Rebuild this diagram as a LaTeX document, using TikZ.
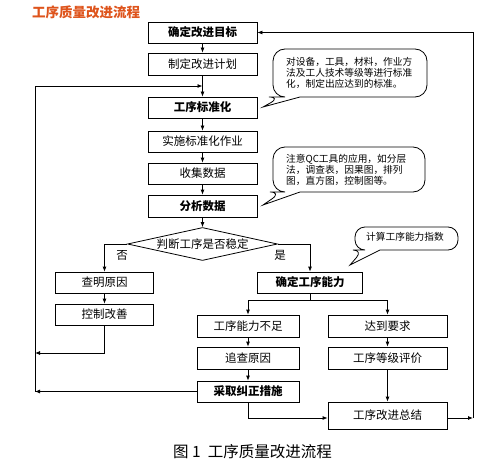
\documentclass[tikz,border=0pt]{standalone}
\usepackage{fontspec}
\setmainfont{Noto Sans CJK SC}
\usetikzlibrary{shapes.geometric,arrows.meta}
\definecolor{titlec}{RGB}{222,84,28}
\begin{document}
\begin{tikzpicture}[x=1pt,y=-1pt,
 box/.style={draw, line width=0.8pt, inner sep=0pt, font=\fontsize{11.5}{13}\selectfont},
 bbox/.style={box, font=\fontsize{11.5}{13}\selectfont\bfseries},
 arr/.style={-{Latex[length=5pt,width=4pt]}, line width=0.8pt},
 ln/.style={line width=0.8pt},
 bubble/.style={draw, line width=0.8pt, fill=white},
 note/.style={font=\fontsize{9.7}{11}\selectfont, align=left, inner sep=0pt},
 lbl/.style={font=\fontsize{11.5}{13}\selectfont, inner sep=0pt}]
\useasboundingbox (0,0) rectangle (503,468);

% title and caption
\node[font=\fontsize{13.5}{15}\selectfont\bfseries, text=titlec, anchor=west, inner sep=0pt] (title) at (32,12) {工序质量改进流程};
\node[font=\fontsize{15.5}{17}\selectfont, inner sep=0pt] (cap) at (252.5,452) {图 1\ \ 工序质量改进流程};

% main column
\node[bbox, minimum width=109pt, minimum height=21pt] (n1) at (202.5,32.5) {确定改进目标};
\node[box, minimum width=109pt, minimum height=22pt] (n2) at (202.5,64) {制定改进计划};
\node[bbox, minimum width=109pt, minimum height=21pt] (n3) at (202.5,107.5) {工序标准化};
\node[box, minimum width=109pt, minimum height=21pt] (n4) at (202.5,141.5) {实施标准化作业};
\node[box, minimum width=109pt, minimum height=21pt] (n5) at (202.5,173.5) {收集数据};
\node[bbox, minimum width=109pt, minimum height=22pt] (n6) at (202.5,206) {分析数据};
\node[diamond, draw, line width=0.8pt, aspect=4.5, inner sep=0pt, minimum width=150pt, minimum height=33pt, font=\fontsize{11.5}{13}\selectfont] (d) at (202.5,244) {判断工序是否稳定};

% left branch
\node[box, minimum width=98pt, minimum height=21pt] (n7) at (104.5,282.5) {查明原因};
\node[box, minimum width=98pt, minimum height=21pt] (n8) at (104.5,314.5) {控制改善};

% right branch
\node[bbox, minimum width=105pt, minimum height=21pt] (n9) at (310,282.5) {确定工序能力};
\node[box, minimum width=102pt, minimum height=22pt] (n10) at (248,326) {工序能力不足};
\node[box, minimum width=102pt, minimum height=22pt] (n11) at (248,358) {追查原因};
\node[bbox, minimum width=102pt, minimum height=21pt] (n12) at (248,391.5) {采取纠正措施};
\node[box, minimum width=119pt, minimum height=22pt] (n13) at (387.5,326) {达到要求};
\node[box, minimum width=119pt, minimum height=22pt] (n14) at (387.5,358) {工序等级评价};
\node[box, minimum width=119pt, minimum height=27pt] (n15) at (387.5,415.5) {工序改进总结};

\node[lbl] (no) at (122,255) {否};
\node[lbl] (yes) at (280,255) {是};

% connectors
\draw[arr] (n1) -- (n2);
\draw[arr] (n2) -- (n3);
\draw[arr] (n3) -- (n4);
\draw[arr] (n4) -- (n5);
\draw[arr] (n5) -- (n6);
\draw[arr] (n6) -- (d);
\draw[arr] (d.west) -| (n7.north);
\draw[arr] (d.east) -| (n9.north);
\draw[arr] (n7) -- (n8);

\coordinate (L0) at (35,86);
\coordinate (L1) at (35,353);
\coordinate (L2) at (35,391.5);
\draw[arr] (n8.south) |- (L1);
\draw[arr] (n12.west) -- (L2);
\draw[ln] (L2) -- (L0);
\draw[arr] (L0) -- (L0 -| n2.south);

\coordinate (J) at (310,300);
\draw[ln] (n9.south) -- (J);
\draw[arr] (J) -| (n10.north);
\draw[arr] (J) -| (n13.north);
\draw[arr] (n10) -- (n11);
\draw[arr] (n11) -- (n12);
\draw[arr] (n13) -- (n14);
\draw[arr] (n14) -- (n15);
\draw[arr] (n12.south) |- ([yshift=-2.5pt]n15.west);
\coordinate (R) at (473,418);
\draw[arr] ([yshift=-2.5pt]n15.east) -- (R);
\draw[arr] (R) |- (n1.east);

% callouts
\draw[bubble] (300,97) [rounded corners=12pt] -- (427,97) -- (427,49) -- (273,49) -- (273,97) -- (281,97) [sharp corners] -- (263,107) -- cycle;
\node[note, anchor=west] (t1) at (286,72.5) {对设备，工具，材料，作业方\\法及工人技术等级等进行标准\\化，制定出应达到的标准。};

\draw[bubble] (300,192) [rounded corners=12pt] -- (425,192) -- (425,147) -- (273,147) -- (273,192) -- (282,192) [sharp corners] -- (263,205) -- cycle;
\node[note, anchor=west] (t2) at (286,169.5) {注意QC工具的应用，如分层\\法，调查表，因果图，排列\\图，直方图，控制图等。};

\draw[bubble] (380,250) [rounded corners=10pt] -- (458,250) -- (458,227) -- (355,227) -- (355,250) -- (363,250) [sharp corners] -- (350,265) -- cycle;
\node[note] (t3) at (405,237) {计算工序能力指数};
\end{tikzpicture}
\end{document}
